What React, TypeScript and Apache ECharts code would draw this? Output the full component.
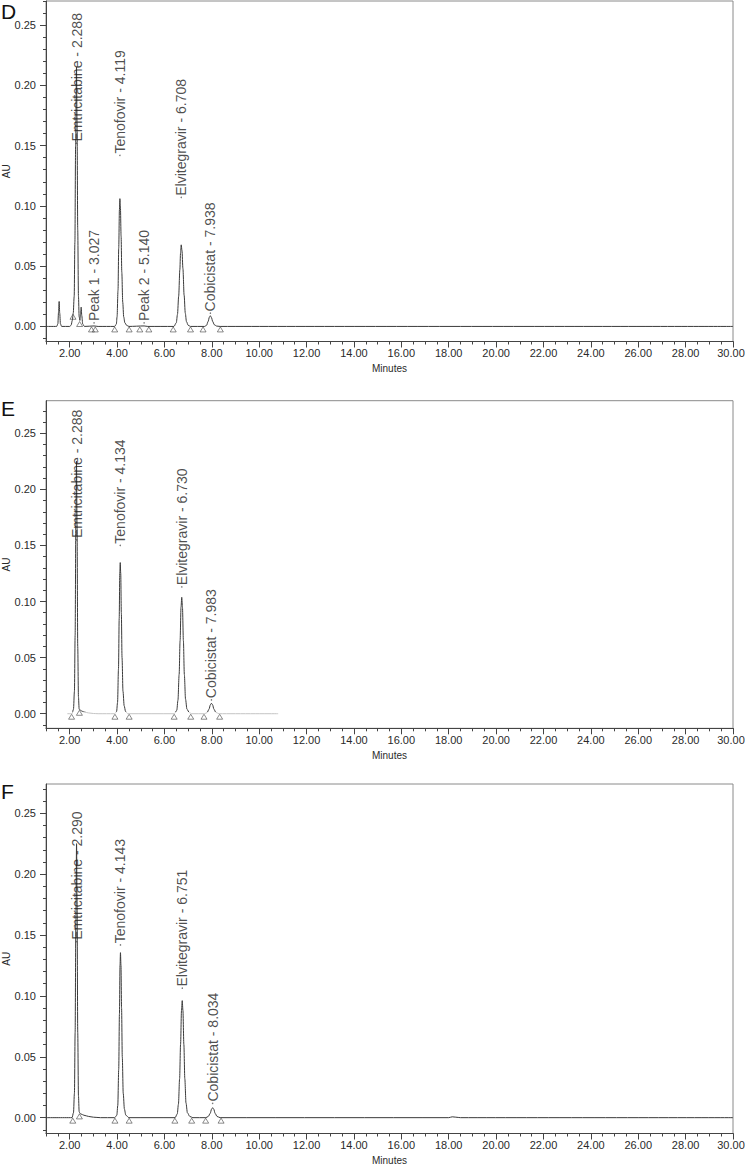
import React, { useEffect, useRef } from "react";
import * as echarts from "echarts";

// ---------------- DATA ----------------
const X_TICK_LABELS = [2, 4, 6, 8, 10, 12, 14, 16, 18, 20, 22, 24, 26, 28, 30];
const X_MINOR_TICKS = [1, 1.5, 2, 2.5, 3, 3.5, 4, 4.5, 5, 5.5, 6, 6.5, 7, 7.5, 8, 8.5, 9, 9.5, 10, 10.5, 11, 11.5, 12, 12.5, 13, 13.5, 14, 14.5, 15, 15.5, 16, 16.5, 17, 17.5, 18, 18.5, 19, 19.5, 20, 20.5, 21, 21.5, 22, 22.5, 23, 23.5, 24, 24.5, 25, 25.5, 26, 26.5, 27, 27.5, 28, 28.5, 29, 29.5, 30];
const Y_TICK_LABELS = [0, 0.05, 0.1, 0.15, 0.2, 0.25];
const Y_MINOR_TICKS = [-0.01, 0, 0.01, 0.02, 0.03, 0.04, 0.05, 0.06, 0.07, 0.08, 0.09, 0.1, 0.11, 0.12, 0.13, 0.14, 0.15, 0.16, 0.17, 0.18, 0.19, 0.2, 0.21, 0.22, 0.23, 0.24, 0.25, 0.26, 0.27];

// Panel D
const D_TRACE: [number, number][] = [
  [1.0, 0], [1.45, 0], [1.5, 0.002], [1.53, 0.012], [1.555, 0.0207], [1.58, 0.011], [1.61, 0.002], [1.66, 0],
  [2.0, 0], [2.06, 0.001], [2.11, 0.005], [2.15, 0.011], [2.19, 0.025], [2.22, 0.07], [2.25, 0.15], [2.288, 0.215],
  [2.31, 0.17], [2.34, 0.08], [2.37, 0.025], [2.4, 0.008], [2.43, 0.005], [2.46, 0.01], [2.485, 0.016], [2.51, 0.009],
  [2.55, 0.002], [2.62, 0], [3.027, 0.0004], [3.2, 0],
  [3.9, 0], [3.97, 0.002], [4.0, 0.008], [4.04, 0.03], [4.07, 0.065], [4.1, 0.097], [4.119, 0.106], [4.14, 0.1],
  [4.17, 0.075], [4.2, 0.045], [4.24, 0.02], [4.28, 0.008], [4.33, 0.003], [4.4, 0.001], [4.5, 0],
  [5.14, 0.0004], [5.3, 0],
  [6.4, 0], [6.5, 0.003], [6.55, 0.01], [6.6, 0.025], [6.65, 0.047], [6.68, 0.061], [6.708, 0.0677], [6.74, 0.063],
  [6.78, 0.048], [6.83, 0.026], [6.88, 0.011], [6.93, 0.004], [7.0, 0.001], [7.1, 0],
  [7.7, 0], [7.78, 0.001], [7.84, 0.004], [7.9, 0.0078], [7.938, 0.0089], [7.98, 0.0075], [8.04, 0.004], [8.1, 0.0015],
  [8.2, 0.0003], [8.35, 0], [30, 0],
];
const D_PEAK_NAMES = ["Emtricitabine - 2.288", "Peak 1 - 3.027", "Tenofovir - 4.119", "Peak 2 - 5.140", "Elvitegravir - 6.708", "Cobicistat - 7.938"];
const D_PEAK_RT = [2.288, 3.027, 4.119, 5.14, 6.708, 7.938];
const D_LABEL_Y = [0.152, 0.003, 0.142, 0.003, 0.107, 0.011];
const D_MARK_T = [2.14, 2.42, 2.92, 3.08, 3.9, 4.51, 4.96, 5.34, 6.37, 7.1, 7.63, 8.36];
const D_MARK_Y = [0.0105, 0.0045, 0, 0, 0, 0, 0, 0, 0, 0, 0, 0];

// Panel E
const E_TRACE: [number, number][] = [
  [1.9, 0], [2.1, 0], [2.16, 0.004], [2.2, 0.02], [2.23, 0.07], [2.26, 0.17], [2.288, 0.225], [2.31, 0.17],
  [2.34, 0.06], [2.37, 0.015], [2.4, 0.004], [2.43, 0.0035], [2.5, 0.0025], [2.6, 0.0015], [2.8, 0.0007], [3.0, 0.0002], [3.2, 0],
  [3.9, 0], [3.98, 0.002], [4.02, 0.01], [4.06, 0.04], [4.09, 0.085], [4.115, 0.125], [4.134, 0.1347], [4.155, 0.125],
  [4.18, 0.09], [4.21, 0.05], [4.25, 0.02], [4.3, 0.007], [4.36, 0.002], [4.45, 0],
  [6.42, 0], [6.52, 0.003], [6.57, 0.012], [6.62, 0.035], [6.66, 0.065], [6.7, 0.095], [6.73, 0.1038], [6.76, 0.095],
  [6.8, 0.065], [6.84, 0.035], [6.89, 0.013], [6.95, 0.004], [7.05, 0.001], [7.15, 0],
  [7.7, 0], [7.8, 0.001], [7.88, 0.004], [7.94, 0.008], [7.983, 0.0093], [8.03, 0.008], [8.09, 0.004], [8.17, 0.0012],
  [8.3, 0], [10.8, 0],
];
const E_PEAK_NAMES = ["Emtricitabine - 2.288", "Tenofovir - 4.134", "Elvitegravir - 6.730", "Cobicistat - 7.983"];
const E_PEAK_RT = [2.288, 4.134, 6.73, 7.983];
const E_LABEL_Y = [0.155, 0.15, 0.113, 0.0123];
const E_MARK_T = [2.08, 2.41, 3.91, 4.51, 6.41, 7.11, 7.67, 8.33];
const E_MARK_Y = [0, 0.0035, 0, 0, 0, 0, 0, 0];

// Panel F
const F_TRACE: [number, number][] = [
  [1.0, 0], [2.1, 0], [2.16, 0.004], [2.2, 0.02], [2.23, 0.07], [2.26, 0.16], [2.29, 0.225], [2.31, 0.18],
  [2.34, 0.07], [2.37, 0.018], [2.4, 0.005], [2.43, 0.0035], [2.48, 0.003], [2.6, 0.002], [2.8, 0.001], [3.0, 0.0004], [3.3, 0],
  [3.9, 0], [3.99, 0.002], [4.03, 0.01], [4.07, 0.04], [4.1, 0.085], [4.125, 0.125], [4.143, 0.1355], [4.165, 0.125],
  [4.19, 0.09], [4.22, 0.05], [4.26, 0.02], [4.31, 0.007], [4.37, 0.002], [4.5, 0],
  [6.45, 0], [6.54, 0.003], [6.59, 0.011], [6.64, 0.032], [6.68, 0.06], [6.72, 0.088], [6.751, 0.0961], [6.78, 0.088],
  [6.82, 0.06], [6.86, 0.032], [6.91, 0.012], [6.97, 0.004], [7.07, 0.001], [7.2, 0],
  [7.75, 0], [7.85, 0.001], [7.93, 0.0035], [7.99, 0.007], [8.034, 0.0082], [8.08, 0.007], [8.14, 0.0035], [8.22, 0.001],
  [8.35, 0], [18.0, 0], [18.15, 0.0007], [18.3, 0.0004], [18.5, 0], [30, 0],
];
const F_PEAK_NAMES = ["Emtricitabine - 2.290", "Tenofovir - 4.143", "Elvitegravir - 6.751", "Cobicistat - 8.034"];
const F_PEAK_RT = [2.29, 4.143, 6.751, 8.034];
const F_LABEL_Y = [0.1446, 0.1418, 0.1063, 0.0118];
const F_MARK_T = [2.13, 2.41, 3.91, 4.51, 6.44, 7.15, 7.74, 8.39];
const F_MARK_Y = [0, 0.0035, 0, 0, 0, 0, 0, 0];

// ---------------- LAYOUT ----------------
const FONT = "'Liberation Sans', Arial, Helvetica, sans-serif";
const PAGE_H = 1167;
const PANELS = [
  { letter: "D", letterY: 1, trace: D_TRACE, names: D_PEAK_NAMES, rt: D_PEAK_RT, labelY: D_LABEL_Y, markT: D_MARK_T, markY: D_MARK_Y, yMin: -0.0125, yMax: 0.27, top: 1, height: 340.5, faintBelow: 0 },
  { letter: "E", letterY: 398, trace: E_TRACE, names: E_PEAK_NAMES, rt: E_PEAK_RT, labelY: E_LABEL_Y, markT: E_MARK_T, markY: E_MARK_Y, yMin: -0.013, yMax: 0.279, top: 400.7, height: 327.6, faintBelow: 712.3 },
  { letter: "F", letterY: 781, trace: F_TRACE, names: F_PEAK_NAMES, rt: F_PEAK_RT, labelY: F_LABEL_Y, markT: F_MARK_T, markY: F_MARK_Y, yMin: -0.013, yMax: 0.274, top: 784, height: 349.5, faintBelow: 0 },
];
const LEFT = 46;
const WIDTH = 687;
const AXIS_COLOR = "#444";
const TEXT_COLOR = "#2a2a2a";
const TRACE_COLOR = "#3a3a3a";
const X_MAX = X_TICK_LABELS[X_TICK_LABELS.length - 1];

function buildOption() {
  const grid: any[] = [];
  const xAxis: any[] = [];
  const yAxis: any[] = [];
  const series: any[] = [];
  const graphic: any[] = [];

  PANELS.forEach((p, i) => {
    grid.push({
      left: LEFT, top: p.top, width: WIDTH, height: p.height,
      show: true, borderColor: "#8a8a8a", borderWidth: 1,
      containLabel: false, outerBoundsMode: "none",
    });
    xAxis.push({
      type: "value", gridIndex: i, min: 1, max: 30, position: "bottom",
      name: "Minutes", nameLocation: "middle", nameGap: 22, nameMoveOverlap: false,
      nameTextStyle: { fontFamily: FONT, fontSize: 10, color: TEXT_COLOR },
      axisLine: { show: true, onZero: false, lineStyle: { color: AXIS_COLOR, width: 1 } },
      axisTick: { show: true, length: 6, customValues: X_TICK_LABELS, lineStyle: { color: AXIS_COLOR } },
      axisLabel: {
        show: true, customValues: X_TICK_LABELS, margin: 6, fontFamily: FONT, fontSize: 11, color: TEXT_COLOR,
        formatter: (v: number) => (v === X_MAX ? "{last|" + v.toFixed(2) + "}" : v.toFixed(2)),
        rich: { last: { fontFamily: FONT, fontSize: 11, color: TEXT_COLOR, padding: [0, 4, 0, 0] } },
      },
      splitLine: { show: false },
    });
    xAxis.push({
      type: "value", gridIndex: i, min: 1, max: 30, position: "bottom",
      axisLine: { show: false, onZero: false },
      axisTick: { show: true, length: 3, customValues: X_MINOR_TICKS, lineStyle: { color: AXIS_COLOR } },
      axisLabel: { show: false, customValues: X_MINOR_TICKS },
      splitLine: { show: false },
    });
    yAxis.push({
      type: "value", gridIndex: i, min: p.yMin, max: p.yMax, position: "left",
      name: "AU", nameLocation: "middle", nameGap: 35, nameMoveOverlap: false,
      nameTextStyle: { fontFamily: FONT, fontSize: 10, color: TEXT_COLOR },
      axisLine: { show: true, onZero: false, lineStyle: { color: AXIS_COLOR, width: 1 } },
      axisTick: { show: true, length: 6, customValues: Y_TICK_LABELS, lineStyle: { color: AXIS_COLOR } },
      axisLabel: { show: true, customValues: Y_TICK_LABELS, margin: 10, fontFamily: FONT, fontSize: 11, color: TEXT_COLOR, formatter: (v: number) => v.toFixed(2) },
      splitLine: { show: false },
    });
    yAxis.push({
      type: "value", gridIndex: i, min: p.yMin, max: p.yMax, position: "left",
      axisLine: { show: false, onZero: false },
      axisTick: { show: true, length: 3, customValues: Y_MINOR_TICKS, lineStyle: { color: AXIS_COLOR } },
      axisLabel: { show: false, customValues: Y_MINOR_TICKS },
      splitLine: { show: false },
    });

    const lineColor: any = p.faintBelow
      ? new echarts.graphic.LinearGradient(0, 0, 0, PAGE_H, [
          { offset: 0, color: TRACE_COLOR },
          { offset: p.faintBelow / PAGE_H, color: TRACE_COLOR },
          { offset: p.faintBelow / PAGE_H, color: "#c4c4c4" },
          { offset: 1, color: "#c4c4c4" },
        ], true)
      : TRACE_COLOR;

    series.push({
      type: "line", xAxisIndex: 2 * i, yAxisIndex: 2 * i, data: p.trace,
      showSymbol: false, smooth: 0.3, smoothMonotone: "x", silent: true, z: 3,
      lineStyle: { color: lineColor, width: 1 },
    });
    series.push({
      type: "scatter", xAxisIndex: 2 * i, yAxisIndex: 2 * i, silent: true, z: 2,
      data: p.markT.map((t, k) => [t, p.markY[k]]),
      symbol: "triangle", symbolSize: [6, 5], symbolOffset: [0, 3],
      itemStyle: { color: "rgba(255,255,255,0)", borderColor: "#4a4a4a", borderWidth: 0.8 },
    });
    series.push({
      type: "scatter", xAxisIndex: 2 * i, yAxisIndex: 2 * i, silent: true, z: 4,
      data: p.rt.map((t, k) => ({ value: [t, p.labelY[k]], name: p.names[k] })),
      symbol: "circle", symbolSize: 1.5,
      itemStyle: { color: "#555" },
      label: {
        show: true, formatter: "{b}", position: "top", distance: 1, rotate: 90,
        align: "left", verticalAlign: "middle",
        fontFamily: FONT, fontSize: 14, color: "#1e1e1e",
      },
    });

    graphic.push({
      type: "text", left: 1, top: p.letterY, silent: true,
      style: { text: p.letter, fontFamily: FONT, fontSize: 21, fill: "#111" },
    });
  });

  return {
    animation: false,
    backgroundColor: "#ffffff",
    grid, xAxis, yAxis, series, graphic,
  };
}

export default function App() {
  const ref = useRef<HTMLDivElement>(null);
  useEffect(() => {
    if (!ref.current) return;
    const chart = echarts.init(ref.current, null, { renderer: "svg" });
    chart.setOption(buildOption() as any);
    return () => chart.dispose();
  }, []);
  return (
    <div
      ref={ref}
      style={{ position: "absolute", left: 0, top: 0, width: 745, height: 1167, background: "#fff" }}
    />
  );
}
